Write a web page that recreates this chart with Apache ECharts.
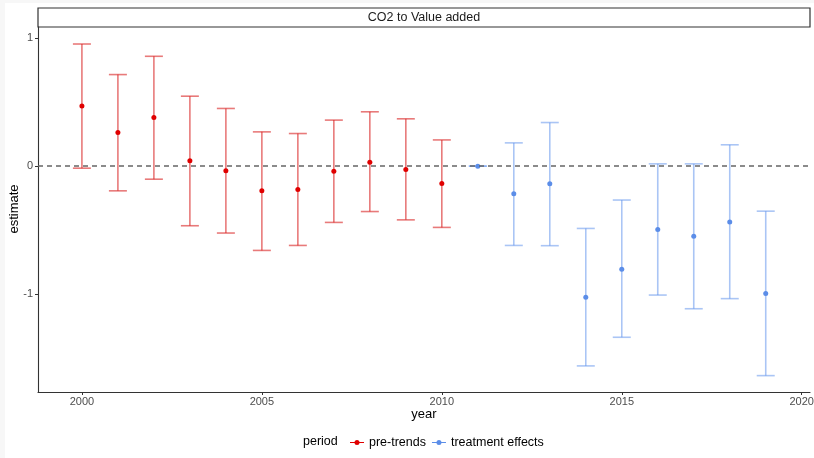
<!DOCTYPE html>
<html>
<head>
    <meta charset="utf-8">
    <title>CO2 to Value added</title>
    <script src="https://cdn.jsdelivr.net/npm/echarts@6/dist/echarts.min.js"></script>
    <style>
        html, body { margin: 0; padding: 0; background: #ffffff; }
        #chart { width: 814px; height: 458px; }
    </style>
</head>
<body>
<div id="chart"></div>
<script>
    // data
    var preYears = [2000, 2001, 2002, 2003, 2004, 2005, 2006, 2007, 2008, 2009, 2010];
    var preEst = [0.47, 0.263, 0.38, 0.042, -0.036, -0.193, -0.182, -0.04, 0.03, -0.026, -0.135];
    var preLow = [-0.016, -0.193, -0.102, -0.466, -0.523, -0.659, -0.62, -0.44, -0.355, -0.42, -0.479];
    var preHigh = [0.955, 0.716, 0.859, 0.547, 0.451, 0.268, 0.255, 0.36, 0.425, 0.37, 0.205];

    var trtYears = [2011, 2012, 2013, 2014, 2015, 2016, 2017, 2018, 2019];
    var trtEst = [0, -0.216, -0.138, -1.026, -0.807, -0.495, -0.549, -0.437, -0.995];
    var trtLow = [0, -0.62, -0.622, -1.562, -1.338, -1.008, -1.115, -1.036, -1.638];
    var trtHigh = [0, 0.182, 0.341, -0.487, -0.265, 0.018, 0.018, 0.167, -0.352];

    var xTicks = [2000, 2005, 2010, 2015, 2020];
    var yTicks = [-1, 0, 1];

    var redPoint = '#e00000', redBar = 'rgba(218, 40, 40, 0.62)';
    var bluePoint = '#5b8de8', blueBar = 'rgba(100, 149, 237, 0.55)';

    function zip(xs, a, b) {
        return xs.map(function (x, i) { return b ? [x, a[i], b[i]] : [x, a[i]]; });
    }

    function errorBar(color) {
        return function (params, api) {
            var x = api.value(0);
            var lo = api.coord([x, api.value(1)]);
            var hi = api.coord([x, api.value(2)]);
            var half = api.size([0.5, 0])[0] / 2;
            var style = {stroke: color, lineWidth: 1.6};
            return {
                type: 'group',
                children: [
                    {type: 'line', shape: {x1: lo[0], y1: lo[1], x2: hi[0], y2: hi[1]}, style: style},
                    {type: 'line', shape: {x1: lo[0] - half, y1: lo[1], x2: lo[0] + half, y2: lo[1]}, style: style},
                    {type: 'line', shape: {x1: hi[0] - half, y1: hi[1], x2: hi[0] + half, y2: hi[1]}, style: style}
                ]
            };
        };
    }

    var icon = 'path://M0,4.4H14V5.6H0Z M9.5,5A2.5,2.5,0,1,1,4.5,5A2.5,2.5,0,1,1,9.5,5Z';

    var chart = echarts.init(document.getElementById('chart'));
    chart.setOption({
        animation: false,
        backgroundColor: '#ffffff',
        grid: {left: 38, right: 4, top: 27, bottom: 66, outerBoundsMode: 'none', containLabel: false},
        graphic: [
            // pale frame of the plot pane
            {type: 'rect', shape: {x: 0, y: 0, width: 814, height: 3}, style: {fill: '#f7f7f7'}},
            {type: 'rect', shape: {x: 0, y: 0, width: 5, height: 458}, style: {fill: '#f7f7f7'}},
            {type: 'rect', shape: {x: 38, y: 8, width: 772, height: 19},
                style: {fill: '#fff', stroke: '#333', lineWidth: 1.2}},
            {type: 'text', x: 424, y: 17.5,
                style: {text: 'CO2 to Value added', font: '12.5px Liberation Sans', fill: '#1a1a1a',
                    align: 'center', verticalAlign: 'middle'}},
            // axis titles
            {type: 'text', x: 424, y: 414.5,
                style: {text: 'year', font: '13px Liberation Sans', fill: '#000',
                    align: 'center', verticalAlign: 'middle'}},
            {type: 'text', x: 14, y: 209, rotation: Math.PI / 2,
                style: {text: 'estimate', font: '13px Liberation Sans', fill: '#000',
                    align: 'center', verticalAlign: 'middle'}},
            {type: 'text', x: 303, y: 442,
                style: {text: 'period', font: '12.5px Liberation Sans', fill: '#000', verticalAlign: 'middle'}}
        ],
        legend: {
            left: 345, top: 431,
            itemWidth: 14, itemHeight: 10, itemGap: 6,
            textStyle: {fontFamily: 'Liberation Sans', fontSize: 12.5, color: '#000'},
            data: [
                {name: 'pre-trends', icon: icon, itemStyle: {color: redPoint}},
                {name: 'treatment effects', icon: icon, itemStyle: {color: bluePoint}}
            ]
        },
        xAxis: {
            type: 'value', min: 1998.78, max: 2020.23,
            axisLine: {onZero: false, lineStyle: {color: '#333', width: 1.1}},
            axisTick: {customValues: xTicks, length: 3, lineStyle: {color: '#333'}},
            axisLabel: {customValues: xTicks, color: '#4d4d4d', fontSize: 11, margin: 4,
                fontFamily: 'Liberation Sans', formatter: function (v) { return String(v); }},
            splitLine: {show: false}
        },
        yAxis: {
            type: 'value', min: -1.766, max: 1.088,
            axisLine: {show: true, onZero: false, lineStyle: {color: '#333', width: 1.1}},
            axisTick: {show: true, customValues: yTicks, length: 3, lineStyle: {color: '#333'}},
            axisLabel: {customValues: yTicks, color: '#4d4d4d', fontSize: 11, margin: 5,
                fontFamily: 'Liberation Sans'},
            splitLine: {show: false}
        },
        series: [
            {
                name: 'pre-trends', type: 'custom', renderItem: errorBar(redBar),
                data: zip(preYears, preLow, preHigh), z: 2,
                markLine: {
                    silent: true, symbol: 'none', label: {show: false},
                    lineStyle: {color: '#666', type: [5, 4], width: 1.6},
                    data: [{yAxis: 0}]
                }
            },
            {
                name: 'treatment effects', type: 'custom', renderItem: errorBar(blueBar),
                data: zip(trtYears, trtLow, trtHigh), z: 2
            },
            {
                name: 'pre-trends', type: 'scatter', symbolSize: 5,
                itemStyle: {color: redPoint, opacity: 1},
                data: zip(preYears, preEst), z: 3
            },
            {
                name: 'treatment effects', type: 'scatter', symbolSize: 5,
                itemStyle: {color: bluePoint, opacity: 1},
                data: zip(trtYears, trtEst), z: 3
            }
        ]
    });
</script>
</body>
</html>
